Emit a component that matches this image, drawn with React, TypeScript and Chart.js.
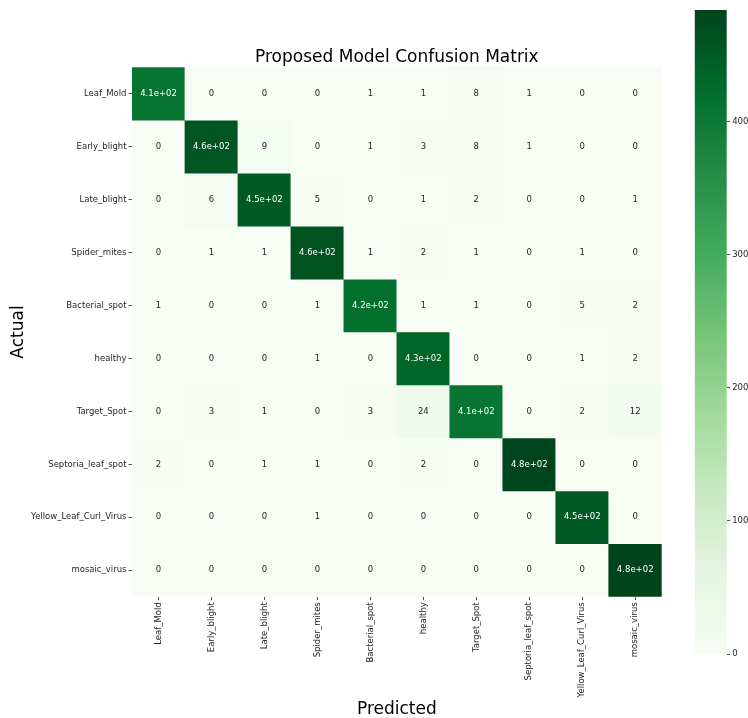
import React, { useEffect, useRef } from 'react';
import { Chart, registerables } from 'chart.js';

Chart.register(...registerables);
Chart.defaults.font.family = "'DejaVu Sans', sans-serif";

const actualLabels = ['Leaf_Mold', 'Early_blight', 'Late_blight', 'Spider_mites', 'Bacterial_spot', 'healthy', 'Target_Spot', 'Septoria_leaf_spot', 'Yellow_Leaf_Curl_Virus', 'mosaic_virus'];
const predictedLabels = ['Leaf_Mold', 'Early_blight', 'Late_blight', 'Spider_mites', 'Bacterial_spot', 'healthy', 'Target_Spot', 'Septoria_leaf_spot', 'Yellow_Leaf_Curl_Virus', 'mosaic_virus'];

const rowLeafMold = [412, 0, 0, 0, 1, 1, 8, 1, 0, 0];
const rowEarlyBlight = [0, 458, 9, 0, 1, 3, 8, 1, 0, 0];
const rowLateBlight = [0, 6, 451, 5, 0, 1, 2, 0, 0, 1];
const rowSpiderMites = [0, 1, 1, 462, 1, 2, 1, 0, 1, 0];
const rowBacterialSpot = [1, 0, 0, 1, 418, 1, 1, 0, 5, 2];
const rowHealthy = [0, 0, 0, 1, 0, 433, 0, 0, 1, 2];
const rowTargetSpot = [0, 3, 1, 0, 3, 24, 408, 0, 2, 12];
const rowSeptoria = [2, 0, 1, 1, 0, 2, 0, 481, 0, 0];
const rowYellow = [0, 0, 0, 1, 0, 0, 0, 0, 452, 0];
const rowMosaic = [0, 0, 0, 0, 0, 0, 0, 0, 0, 484];

const rows = [rowLeafMold, rowEarlyBlight, rowLateBlight, rowSpiderMites, rowBacterialSpot, rowHealthy, rowTargetSpot, rowSeptoria, rowYellow, rowMosaic];

const colorbarTicks = [0, 100, 200, 300, 400];
const vmin = 0;
const vmax = 484;

const greens = ['#f7fcf5', '#e5f5e0', '#c7e9c0', '#a1d99b', '#74c476', '#41ab5d', '#238b45', '#006d2c', '#00441b'];

function hexToRgb(h: string) {
  const n = parseInt(h.slice(1), 16);
  return [(n >> 16) & 255, (n >> 8) & 255, n & 255];
}

function colorRgb(v: number) {
  let t = (v - vmin) / (vmax - vmin);
  t = Math.max(0, Math.min(1, t));
  const pos = t * (greens.length - 1);
  const i = Math.min(greens.length - 2, Math.floor(pos));
  const f = pos - i;
  const a = hexToRgb(greens[i]);
  const b = hexToRgb(greens[i + 1]);
  return a.map((x, k) => Math.round(x + (b[k] - x) * f));
}

function colorFor(v: number) {
  const [r, g, b] = colorRgb(v);
  return `rgb(${r},${g},${b})`;
}

function textColorFor(v: number) {
  const c = colorRgb(v).map((x) => {
    const s = x / 255;
    return s <= 0.03928 ? s / 12.92 : Math.pow((s + 0.055) / 1.055, 2.4);
  });
  const lum = 0.2126 * c[0] + 0.7152 * c[1] + 0.0722 * c[2];
  return lum > 0.408 ? '#262626' : '#ffffff';
}

function fmt(v: number) {
  if (Math.abs(v) >= 100) {
    const [m, e] = v.toExponential(1).split('e');
    const sign = e[0] === '-' ? '-' : '+';
    const digits = e.replace(/[+-]/, '').padStart(2, '0');
    return `${m}e${sign}${digits}`;
  }
  return String(v);
}

const cellText = {
  id: 'cellText',
  afterDatasetsDraw(chart: any) {
    const ctx = chart.ctx;
    ctx.save();
    ctx.font = "8.5px 'DejaVu Sans', sans-serif";
    ctx.textAlign = 'center';
    ctx.textBaseline = 'middle';
    rows.forEach((row, r) => {
      const meta = chart.getDatasetMeta(r);
      row.forEach((v, c) => {
        const el: any = meta.data[c];
        if (!el) return;
        ctx.fillStyle = textColorFor(v);
        ctx.fillText(fmt(v), el.x, (el.y + el.base) / 2);
      });
    });
    ctx.restore();
  },
};

const tickColor = '#262626';

export default function App() {
  const heatRef = useRef<HTMLCanvasElement>(null);
  const barRef = useRef<HTMLCanvasElement>(null);

  useEffect(() => {
    const heat = new Chart(heatRef.current!, {
      type: 'bar',
      data: {
        labels: predictedLabels,
        datasets: rows.map((row, r) => ({
          label: actualLabels[r],
          data: row.map(() => [r, r + 1]) as any,
          backgroundColor: row.map((v) => colorFor(v)),
          borderWidth: 0,
          barPercentage: 1,
          categoryPercentage: 1,
          grouped: false,
        })),
      },
      options: {
        responsive: false,
        animation: false,
        events: [],
        layout: { padding: { left: 0, right: 28.3, top: 0, bottom: 0 } },
        plugins: {
          legend: { display: false },
          tooltip: { enabled: false },
          title: {
            display: true,
            text: 'Proposed Model Confusion Matrix',
            color: '#000',
            fullSize: false,
            font: { size: 17, weight: 'normal', lineHeight: 1 },
            padding: { top: 49, bottom: 1.3 },
          },
        },
        scales: {
          x: {
            type: 'category',
            position: 'bottom',
            offset: true,
            grid: { display: true, drawOnChartArea: false, drawTicks: true, tickLength: 3.5, offset: false, color: tickColor, lineWidth: 0.8 },
            border: { display: false },
            ticks: { autoSkip: false, minRotation: 90, maxRotation: 90, padding: 2, color: tickColor, font: { size: 8.5 } },
            title: { display: true, text: 'Predicted', color: '#000', font: { size: 17, lineHeight: 1 }, padding: 0 },
            afterFit: (s: any) => { s.height = 718 - 596.7; },
          },
          y: {
            type: 'linear',
            min: 0,
            max: 10,
            reverse: true,
            afterBuildTicks: (s: any) => { s.ticks = actualLabels.map((_, i) => ({ value: i + 0.5 })); },
            grid: { display: true, drawOnChartArea: false, drawTicks: true, tickLength: 3.5, color: tickColor, lineWidth: 0.8 },
            border: { display: false },
            ticks: {
              autoSkip: false,
              padding: 2,
              color: tickColor,
              font: { size: 8.5 },
              callback: (v: any) => actualLabels[Math.floor(Number(v))],
            },
            title: { display: true, text: 'Actual', color: '#000', font: { size: 17, lineHeight: 1 }, padding: { top: 10, bottom: 0 } },
            afterFit: (s: any) => { s.width = 132; },
          },
        },
      },
      plugins: [cellText],
    });

    const bar = new Chart(barRef.current!, {
      type: 'bar',
      data: {
        labels: [''],
        datasets: [{
          data: [[vmin, vmax]] as any,
          backgroundColor: (c: any) => {
            const chart = c.chart;
            if (!chart.chartArea) return greens[0];
            const ys = chart.scales.y;
            const g = chart.ctx.createLinearGradient(0, ys.getPixelForValue(vmin), 0, ys.getPixelForValue(vmax));
            greens.forEach((col, i) => g.addColorStop(i / (greens.length - 1), col));
            return g;
          },
          borderWidth: 0,
          barPercentage: 1,
          categoryPercentage: 1,
        }],
      },
      options: {
        responsive: false,
        animation: false,
        events: [],
        layout: { padding: { left: 4.7, right: 0, top: 10, bottom: 64 } },
        plugins: { legend: { display: false }, tooltip: { enabled: false } },
        scales: {
          x: { display: false },
          y: {
            position: 'right',
            min: vmin,
            max: vmax,
            afterBuildTicks: (s: any) => { s.ticks = colorbarTicks.map((v) => ({ value: v })); },
            grid: { display: true, drawOnChartArea: false, drawTicks: true, tickLength: 3.5, color: tickColor, lineWidth: 0.8 },
            border: { display: false },
            ticks: { padding: 2, color: tickColor, font: { size: 8.5 } },
            afterFit: (s: any) => { s.width = 21.3; },
          },
        },
      },
    });

    return () => {
      heat.destroy();
      bar.destroy();
    };
  }, []);

  return (
    <div style={{ position: 'fixed', left: 0, top: 0, width: 748, height: 718, background: '#fff' }}>
      <canvas ref={heatRef} width={690} height={718} style={{ position: 'absolute', left: 0, top: 0, width: 690, height: 718 }} />
      <canvas ref={barRef} width={58} height={718} style={{ position: 'absolute', left: 690, top: 0, width: 58, height: 718 }} />
    </div>
  );
}
